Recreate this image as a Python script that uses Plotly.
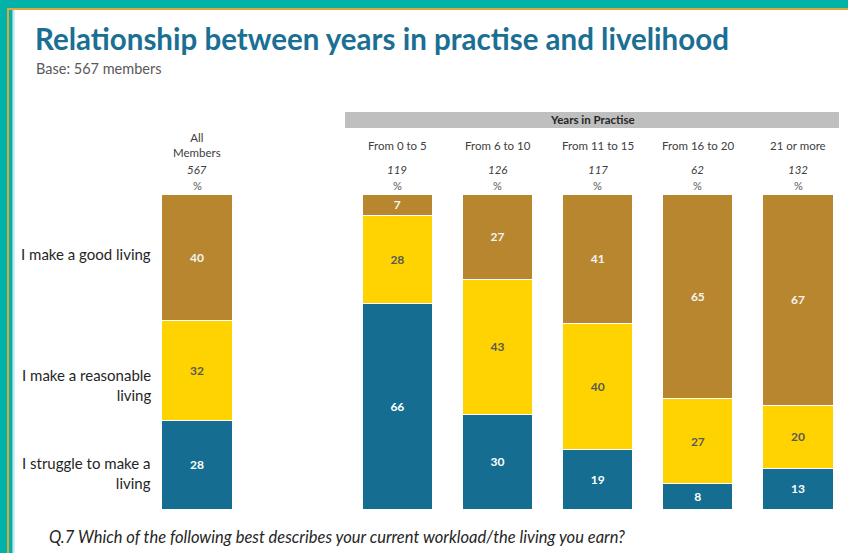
import plotly.graph_objects as go

W, H = 848, 553

# ---- data -------------------------------------------------------------
groups = ["All<br>Members", "From 0 to 5", "From 6 to 10", "From 11 to 15",
          "From 16 to 20", "21 or more"]
bases = [567, 119, 126, 117, 62, 132]
struggle = [28, 66, 30, 19, 8, 13]
reasonable = [32, 28, 43, 40, 27, 20]
good = [40, 7, 27, 41, 65, 67]
response_labels = ["I make a good living", "I make a reasonable<br>living",
                   "I struggle to make a<br>living"]

# slot positions along the x axis (a gap separates the total column)
slots = [0, 2, 3, 4, 5, 6]

# ---- styling ----------------------------------------------------------
BROWN = "#B8862F"
YELLOW = "#FFD300"
BLUE = "#156E92"
TEAL = "#00B2A9"
ORANGE = "#E3A43A"
FONT = "Lato"


def px(x):
    return x / W


def py(y):
    return 1 - y / H


fig = go.Figure()

series = [
    ("I struggle to make a living", struggle, BLUE, "#FFFFFF"),
    ("I make a reasonable living", reasonable, YELLOW, "#595959"),
    ("I make a good living", good, BROWN, "#F4F4F4"),
]
for name, vals, col, tcol in series:
    fig.add_trace(go.Bar(
        x=slots, y=vals, name=name, width=0.7,
        marker=dict(color=col, line=dict(color="#FFFFFF", width=1)),
        text=[str(v) for v in vals], textposition="inside",
        insidetextanchor="middle", textangle=0,
        textfont=dict(family=FONT, size=12, color=tcol, weight="bold"),
        constraintext="none", hoverinfo="skip",
    ))

ann = []
# title and base
ann.append(dict(x=px(33), y=py(38), xref="paper", yref="paper",
                xanchor="left", yanchor="middle", showarrow=False,
                text="<b>Relationship between years in practise and livelihood</b>",
                font=dict(family=FONT, size=29.5, color="#1A6F93")))
ann.append(dict(x=px(34), y=py(69), xref="paper", yref="paper",
                xanchor="left", yanchor="middle", showarrow=False,
                text="Base: 567 members",
                font=dict(family=FONT, size=14.5, color="#595959")))

# column headings
for s, g, b in zip(slots, groups, bases):
    ann.append(dict(x=s, y=py(145), xref="x", yref="paper",
                    xanchor="center", yanchor="middle", showarrow=False,
                    text=g, font=dict(family=FONT, size=11.5, color="#404040")))
    ann.append(dict(x=s, y=py(170), xref="x", yref="paper",
                    xanchor="center", yanchor="middle", showarrow=False,
                    text=f"<i>{b}</i>", font=dict(family=FONT, size=11.5, color="#404040")))
    ann.append(dict(x=s, y=py(185), xref="x", yref="paper",
                    xanchor="center", yanchor="middle", showarrow=False,
                    text="%", font=dict(family=FONT, size=11, color="#595959")))

# group banner
ann.append(dict(x=px(592), y=py(120), xref="paper", yref="paper",
                xanchor="center", yanchor="middle", showarrow=False,
                text="<b>Years in Practise</b>",
                font=dict(family=FONT, size=11.5, color="#262626")))

# response labels
for lab, yc in zip(response_labels, [254, 385, 473]):
    ann.append(dict(x=px(153), y=py(yc), xref="paper", yref="paper",
                    xanchor="right", yanchor="middle", align="right",
                    showarrow=False, text=lab,
                    font=dict(family=FONT, size=15, color="#262626")))

# question footnote
ann.append(dict(x=px(47), y=py(537), xref="paper", yref="paper",
                xanchor="left", yanchor="middle", showarrow=False,
                text="<i>Q.7 Which of the following best describes your current workload/the living you earn?</i>",
                font=dict(family=FONT, size=16.5, color="#262626")))

shapes = [
    # banner band
    dict(type="rect", xref="paper", yref="paper", x0=px(345), x1=px(839),
         y0=py(128), y1=py(112), fillcolor="#BFBFBF", line=dict(width=0), layer="below"),
    # frame: top
    dict(type="rect", xref="paper", yref="paper", x0=0, x1=1, y0=py(8), y1=1,
         fillcolor=TEAL, line=dict(width=0)),
    dict(type="rect", xref="paper", yref="paper", x0=px(7), x1=1, y0=py(10), y1=py(8),
         fillcolor=ORANGE, line=dict(width=0)),
    # frame: left
    dict(type="rect", xref="paper", yref="paper", x0=0, x1=px(7), y0=0, y1=1,
         fillcolor=TEAL, line=dict(width=0)),
    dict(type="rect", xref="paper", yref="paper", x0=px(7), x1=px(9), y0=0, y1=py(8),
         fillcolor=ORANGE, line=dict(width=0)),
    dict(type="rect", xref="paper", yref="paper", x0=px(9), x1=px(12.7), y0=0, y1=py(10),
         fillcolor=TEAL, line=dict(width=0)),
    dict(type="rect", xref="paper", yref="paper", x0=px(12.7), x1=px(14.7), y0=0, y1=py(10),
         fillcolor="#C4E8F2", line=dict(width=0)),
]

fig.update_layout(
    width=W, height=H, margin=dict(l=0, r=0, t=0, b=0),
    paper_bgcolor="#FFFFFF", plot_bgcolor="rgba(0,0,0,0)",
    barmode="stack", barnorm="percent", showlegend=False,
    xaxis=dict(range=[-1.967, 6.499], visible=False, fixedrange=True),
    yaxis=dict(range=[-13.97, 161.59], visible=False, fixedrange=True),
    annotations=ann, shapes=shapes,
    font=dict(family=FONT),
)

fig.write_html("out.html")
